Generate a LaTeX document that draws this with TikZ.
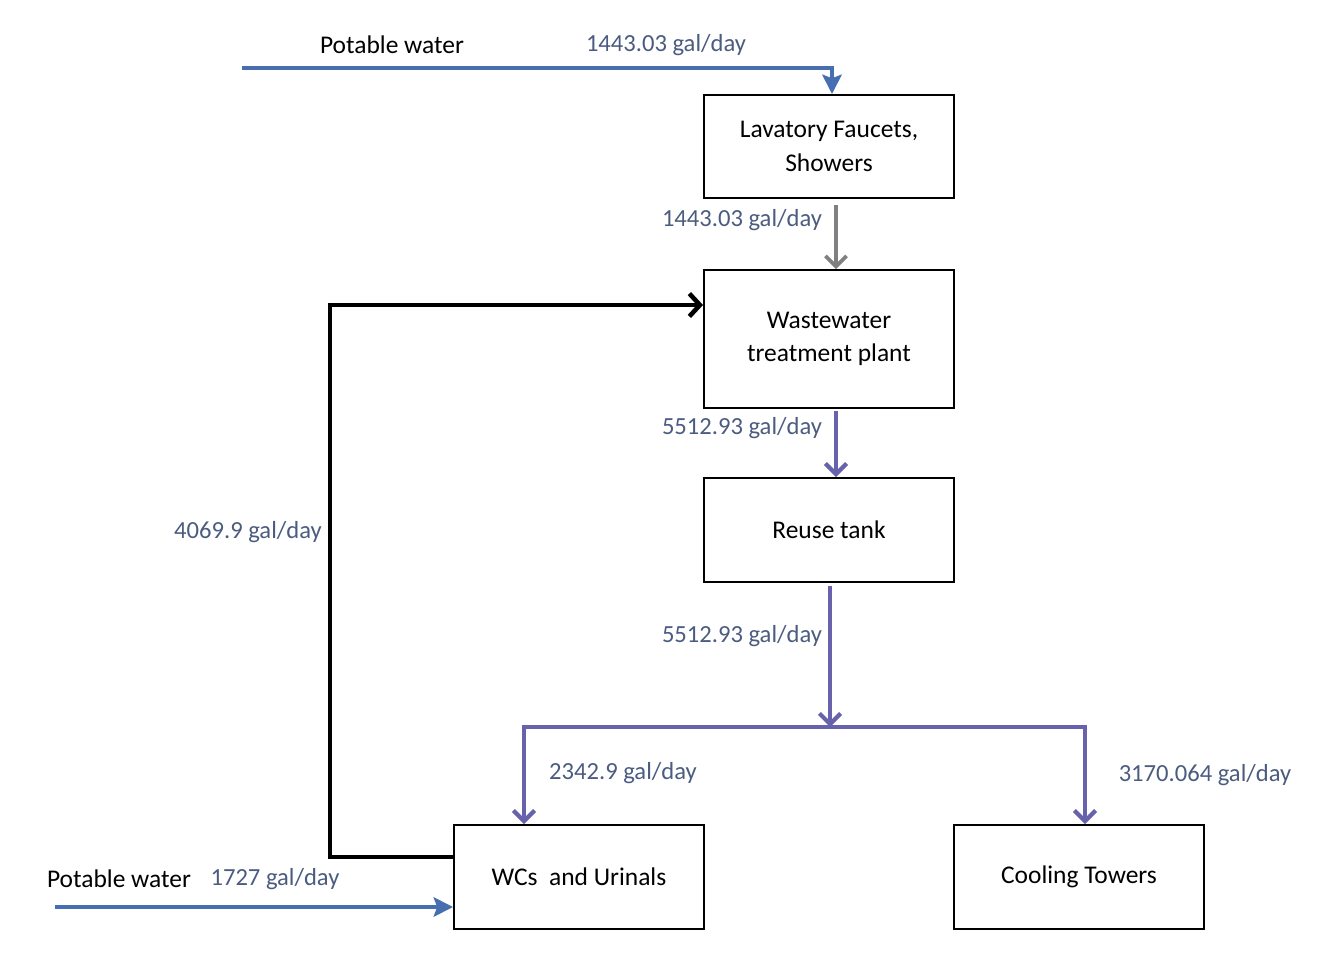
\documentclass[tikz,border=0pt]{standalone}
\usepackage{fontspec}
\setmainfont{Carlito}
\usetikzlibrary{arrows.meta}
\definecolor{pblue}{RGB}{72,110,178}
\definecolor{pgray}{RGB}{128,128,128}
\definecolor{ppurple}{RGB}{104,98,172}
\definecolor{lbl}{RGB}{75,92,128}
\tikzset{
  box/.style={draw=black, line width=1.1pt, minimum width=250*0.02cm, minimum height=104*0.02cm, inner sep=0pt, align=center, font=\fontsize{14.5}{19}\selectfont},
  lab/.style={text=lbl, font=\fontsize{14}{17}\selectfont, inner sep=0pt},
  blk/.style={text=black, font=\fontsize{14.5}{17}\selectfont, inner sep=0pt},
  bluearr/.style={draw=pblue, line width=2.7pt, -{Stealth[length=11pt,width=11pt,inset=2pt]}},
  grayarr/.style={draw=pgray, line width=2.1pt, -{Straight Barb[length=6pt,width=12pt]}},
  purarr/.style={draw=ppurple, line width=2.4pt, -{Straight Barb[length=6pt,width=12pt]}},
  blkarr/.style={draw=black, line width=2.6pt, -{Straight Barb[length=6pt,width=13pt]}},
}
\begin{document}
\begin{tikzpicture}[x=0.02cm,y=-0.02cm]
\useasboundingbox (0,0) rectangle (1336,960);
% boxes
\node[box, minimum height=103*0.02cm] (lav) at (829,146.5) {Lavatory Faucets,\\Showers};
\node[box, minimum height=138*0.02cm] (wwt) at (829,339) {Wastewater\\treatment plant};
\node[box] (reuse) at (829,530) {Reuse tank};
\node[box] (wc) at (579,877) {WCs\ \ and Urinals};
\node[box] (cool) at (1079,877) {Cooling Towers};
% coordinates
\coordinate (p1) at (242,68);
\coordinate (p2) at (55,907);
\coordinate (jn) at (830,727);
\coordinate (jl) at (524,727);
\coordinate (jr) at (1085,727);
% top potable
\draw[bluearr] (p1) -- (832,68) -- (lav.north -| 832,0);
% gray
\draw[grayarr] (lav.south -| 836,0) ++(0,6) -- (wwt.north -| 836,0);
% wwt to reuse
\draw[purarr] (wwt.south -| 836,0) ++(0,2) -- (reuse.north -| 836,0);
% reuse to junction
\draw[purarr] (reuse.south -| jn) ++(0,3) -- (jn);
\draw[ppurple, line width=2.6pt, line cap=rect] (jl) -- (jr);
\draw[purarr] (jl) -- (wc.north -| jl);
\draw[purarr] (jr) -- (cool.north -| jr);
% black recycle
\draw[blkarr] (wc.west |- 0,857) -- (330,857) -- (330,305) -- (wwt.west |- 0,305);
% bottom potable
\draw[bluearr] (p2) -- (wc.west |- p2);
% labels
\node[blk] (t1) at (392,45) {Potable water};
\node[lab] (t2) at (666,45) {1443.03 gal/day};
\node[lab] (t3) at (742,220) {1443.03 gal/day};
\node[lab] (t4) at (742,428) {5512.93 gal/day};
\node[lab] (t5) at (742,636) {5512.93 gal/day};
\node[lab] (t6) at (248,532) {4069.9 gal/day};
\node[lab] (t7) at (623,773) {2342.9 gal/day};
\node[lab] (t8) at (1205,775) {3170.064 gal/day};
\node[blk] (t9) at (119,879) {Potable water};
\node[lab] (t10) at (275,879) {1727 gal/day};
\end{tikzpicture}
\end{document}
